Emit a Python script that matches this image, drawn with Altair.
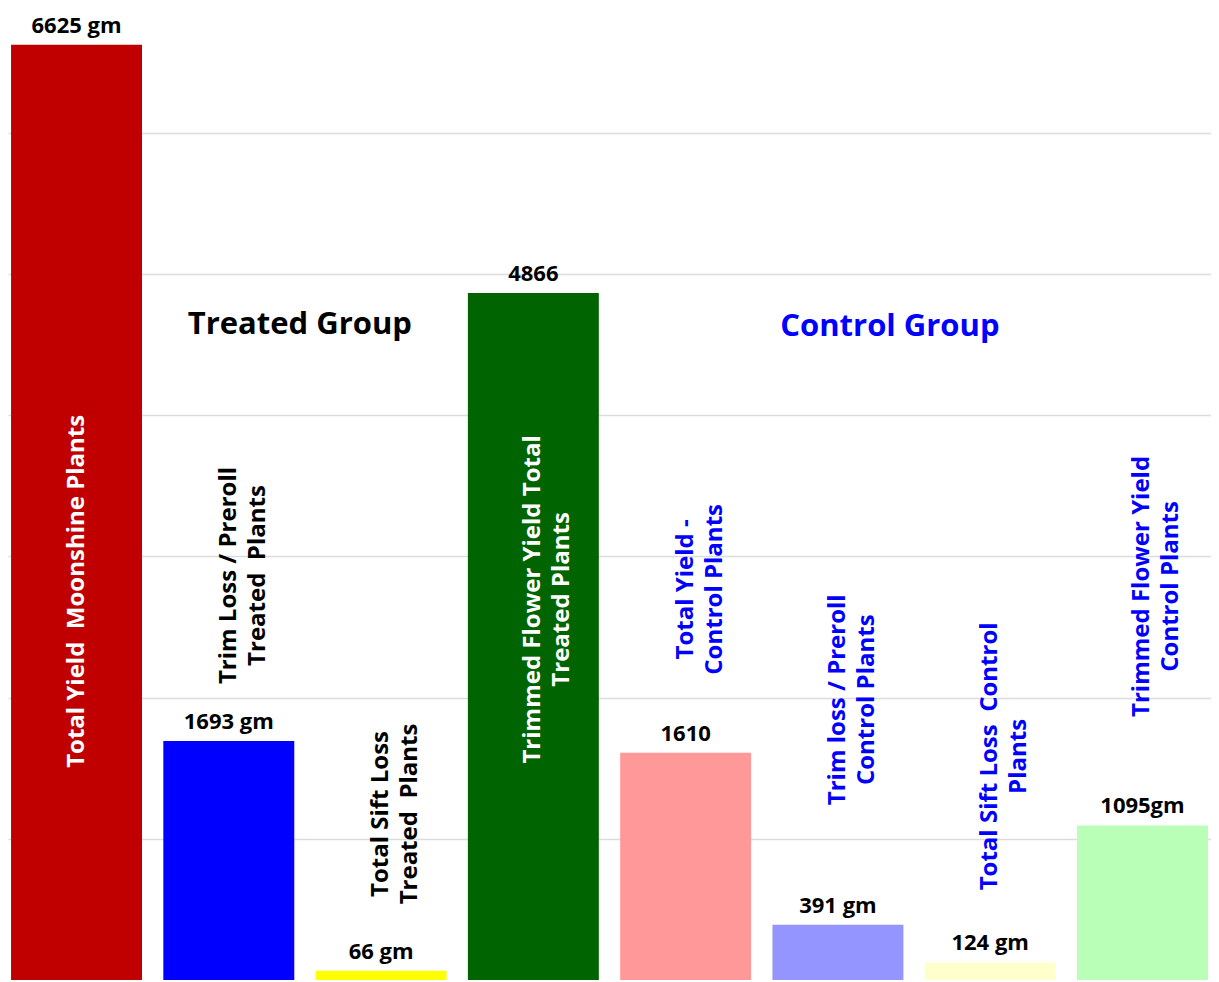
import altair as alt
import pandas as pd

# ---- data ----
bar_ids = ["A", "B", "C", "D", "E", "F", "G", "H"]
values = [6625, 1693, 66, 4866, 1610, 391, 124, 1095]
value_labels = ["6625 gm", "1693 gm", "66 gm", "4866", "1610", "391 gm", "124 gm", "1095gm"]
bar_colors = ["#C00000", "#0000FF", "#FFFF00", "#006400",
              "#FF9999", "#9595FF", "#FFFFCC", "#B9FFB7"]
names = [
    "Total Yield \u00a0Moonshine Plants",
    "Trim Loss / Preroll\n Treated \u00a0Plants",
    "Total Sift Loss\n Treated \u00a0Plants",
    "Trimmed Flower Yield Total\nTreated Plants",
    "Total Yield -\nControl Plants",
    "Trim loss / Preroll\nControl Plants",
    "Total Sift Loss \u00a0Control\nPlants",
    "Trimmed Flower Yield\nControl Plants",
]
name_colors = ["#FFFFFF", "#000000", "#000000", "#FFFFFF",
               "#0000FF", "#0000FF", "#0000FF", "#0000FF"]
# label anchor heights, in grams (data units)
name_anchor = [2753, 2865, 1176, 2696, 2767, 1985, 1584, 2788]

groups = ["Treated Group", "Control Group"]
group_bar = ["B", "F"]
group_anchor = [4640, 4625]
group_colors = ["#000000", "#0000FF"]
grid_values = [1000, 2000, 3000, 4000, 5000, 6000]

df = pd.DataFrame({
    "id": bar_ids, "value": values, "vlabel": value_labels,
    "color": bar_colors, "name": names, "ncolor": name_colors,
    "anchor": name_anchor,
})
gdf = pd.DataFrame({"id": group_bar, "group": groups,
                    "anchor": group_anchor, "gcolor": group_colors})

FONT = "Open Sans"
x_enc = alt.X("id:N", sort=bar_ids, axis=None,
              scale=alt.Scale(paddingInner=0.14, paddingOuter=0.02))
y_scale = alt.Scale(domain=[0, 6800], nice=False, zero=True)

bars = alt.Chart(df).mark_bar().encode(
    x=x_enc,
    y=alt.Y("value:Q", scale=y_scale,
            axis=alt.Axis(values=grid_values, grid=True, labels=False,
                          ticks=False, domain=False, title=None,
                          gridColor="#dcdcdc", gridWidth=1.5)),
    color=alt.Color("color:N", scale=None),
)

vtext = alt.Chart(df).mark_text(
    font=FONT, fontWeight="bold", fontSize=22, dy=-19,
    baseline="middle", align="center", color="black"
).encode(x=x_enc, y=alt.Y("value:Q", scale=y_scale), text="vlabel:N")

ntext = alt.Chart(df).mark_text(
    font=FONT, fontWeight="bold", fontSize=24, angle=270,
    baseline="middle", align="center", lineBreak="\n", lineHeight=29
).encode(x=x_enc, y=alt.Y("anchor:Q", scale=y_scale), text="name:N",
         color=alt.Color("ncolor:N", scale=None))

gtext1 = alt.Chart(gdf.iloc[[0]]).mark_text(
    font=FONT, fontWeight="bold", fontSize=31, dx=71,
    baseline="middle", align="center"
).encode(x=x_enc, y=alt.Y("anchor:Q", scale=y_scale), text="group:N",
         color=alt.Color("gcolor:N", scale=None))

gtext2 = alt.Chart(gdf.iloc[[1]]).mark_text(
    font=FONT, fontWeight="bold", fontSize=31, dx=52,
    baseline="middle", align="center"
).encode(x=x_enc, y=alt.Y("anchor:Q", scale=y_scale), text="group:N",
         color=alt.Color("gcolor:N", scale=None))

chart = alt.layer(bars, vtext, ntext, gtext1, gtext2).properties(
    width=1203, height=960,
    padding={"top": 6, "bottom": 0, "left": 0, "right": 0}
).configure_view(stroke=None)

chart.save("out.html", embed_options={"renderer": "svg", "actions": False})
